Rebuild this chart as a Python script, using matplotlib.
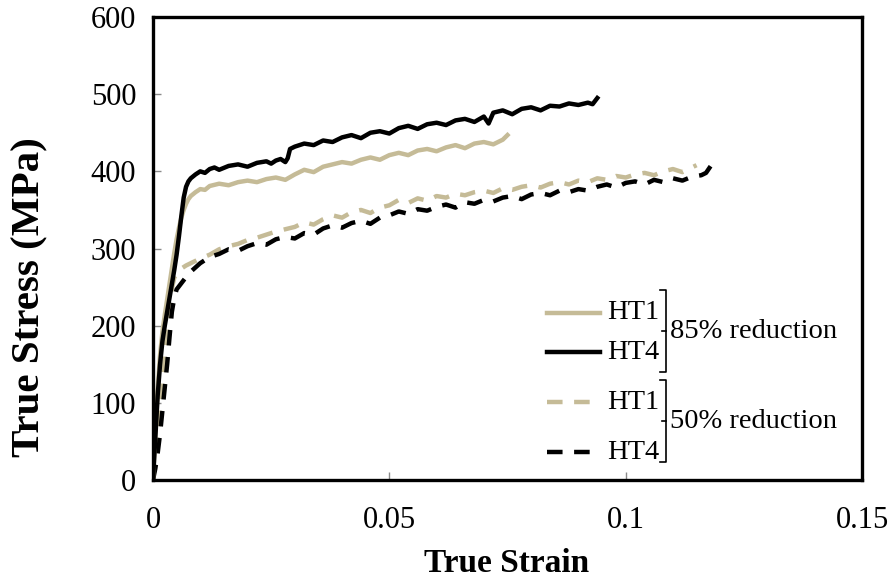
import matplotlib
matplotlib.use("Agg")
import matplotlib.pyplot as plt

# True stress-strain curves, two heat treatments at two cold-rolling reductions
eps_ht1_85 = [0, 0.0005, 0.001, 0.0015, 0.002, 0.0025, 0.003, 0.0035, 0.004, 0.0045,
              0.005, 0.0055, 0.006, 0.0065, 0.007, 0.0075, 0.008, 0.009, 0.010, 0.011,
              0.012, 0.014, 0.016, 0.018, 0.020, 0.022, 0.024, 0.026, 0.028, 0.030,
              0.032, 0.034, 0.036, 0.038, 0.040, 0.042, 0.044, 0.046, 0.048, 0.050,
              0.052, 0.054, 0.056, 0.058, 0.060, 0.062, 0.064, 0.066, 0.068, 0.070,
              0.072, 0.074, 0.075]
sig_ht1_85 = [0, 62, 118, 162, 192, 214, 234, 254, 274, 294,
              312, 327, 340, 350, 358, 364, 368, 373, 377, 376,
              381, 384, 382, 386, 388, 386, 390, 392, 389, 396,
              402, 399, 406, 409, 412, 410, 415, 418, 415, 421,
              424, 421, 427, 429, 426, 431, 434, 430, 436, 438,
              435, 441, 447]

eps_ht4_85 = [0, 0.0005, 0.001, 0.0015, 0.002, 0.0025, 0.003, 0.0035, 0.004, 0.0045,
              0.005, 0.0055, 0.006, 0.0065, 0.007, 0.0075, 0.008, 0.009, 0.010, 0.011,
              0.012, 0.013, 0.014, 0.016, 0.018, 0.020, 0.022, 0.024, 0.025, 0.026,
              0.027, 0.028, 0.0285, 0.029, 0.030, 0.032, 0.034, 0.036, 0.038, 0.040,
              0.042, 0.044, 0.046, 0.048, 0.050, 0.052, 0.054, 0.056, 0.058, 0.060,
              0.062, 0.064, 0.066, 0.068, 0.070, 0.071, 0.072, 0.074, 0.076, 0.078,
              0.080, 0.082, 0.084, 0.086, 0.088, 0.090, 0.092, 0.093, 0.094]
sig_ht4_85 = [0, 55, 110, 150, 180, 200, 218, 236, 254, 272,
              292, 316, 342, 366, 380, 387, 391, 396, 400, 398,
              403, 405, 402, 407, 409, 406, 411, 413, 410, 414,
              416, 412, 417, 429, 432, 436, 434, 440, 438, 444,
              447, 443, 450, 452, 449, 456, 459, 455, 461, 463,
              460, 466, 468, 464, 471, 462, 476, 479, 474, 481,
              483, 479, 485, 484, 488, 486, 489, 487, 495]

eps_ht1_50 = [0, 0.0005, 0.001, 0.0015, 0.002, 0.0025, 0.003, 0.0035, 0.004, 0.0045,
              0.005, 0.006, 0.007, 0.008, 0.010, 0.012, 0.014, 0.016, 0.018, 0.020,
              0.022, 0.024, 0.026, 0.028, 0.030, 0.032, 0.034, 0.036, 0.038, 0.040,
              0.042, 0.044, 0.046, 0.048, 0.050, 0.052, 0.054, 0.056, 0.058, 0.060,
              0.062, 0.064, 0.066, 0.068, 0.070, 0.072, 0.074, 0.076, 0.078, 0.080,
              0.082, 0.084, 0.086, 0.088, 0.090, 0.092, 0.094, 0.096, 0.098, 0.100,
              0.102, 0.104, 0.106, 0.108, 0.110, 0.112, 0.114, 0.115]
sig_ht1_50 = [0, 25, 55, 90, 125, 160, 195, 225, 248, 262,
              268, 274, 278, 281, 287, 292, 299, 303, 306, 311,
              314, 318, 322, 325, 328, 334, 331, 338, 343, 340,
              347, 350, 346, 353, 356, 363, 359, 365, 362, 368,
              366, 371, 369, 373, 375, 372, 378, 376, 380, 382,
              379, 384, 386, 383, 388, 386, 391, 389, 394, 392,
              396, 398, 395, 400, 403, 399, 405, 408]

eps_ht4_50 = [0, 0.0005, 0.001, 0.0015, 0.002, 0.0025, 0.003, 0.0035, 0.004, 0.0045,
              0.005, 0.006, 0.007, 0.008, 0.010, 0.012, 0.014, 0.016, 0.018, 0.020,
              0.022, 0.024, 0.026, 0.028, 0.030, 0.032, 0.034, 0.036, 0.038, 0.040,
              0.042, 0.044, 0.046, 0.048, 0.050, 0.052, 0.054, 0.056, 0.058, 0.060,
              0.062, 0.064, 0.066, 0.068, 0.070, 0.072, 0.074, 0.076, 0.078, 0.080,
              0.082, 0.084, 0.086, 0.088, 0.090, 0.092, 0.094, 0.096, 0.098, 0.100,
              0.102, 0.104, 0.106, 0.108, 0.110, 0.112, 0.114, 0.116, 0.117, 0.118]
sig_ht4_50 = [0, 15, 35, 60, 90, 120, 150, 185, 218, 236,
              247, 255, 263, 270, 281, 289, 293, 299, 297, 303,
              307, 305, 312, 315, 313, 320, 318, 326, 330, 327,
              333, 336, 332, 340, 343, 348, 345, 351, 349, 354,
              357, 353, 360, 358, 363, 361, 366, 368, 364, 370,
              372, 369, 375, 373, 377, 375, 380, 383, 379, 385,
              387, 383, 389, 386, 391, 388, 393, 395, 398, 407]

x_ticks = [0, 0.05, 0.1, 0.15]
x_tick_labels = ["0", "0.05", "0.1", "0.15"]
y_ticks = [0, 100, 200, 300, 400, 500, 600]

TAN = "#C5BB97"
BLACK = "#000000"
LW = 3.2
DASH = (0, (3.5, 2.6))

plt.rcParams["font.family"] = ["Liberation Serif", "DejaVu Serif"]

fig = plt.figure(figsize=(8.93, 5.84), dpi=100)
ax = fig.add_axes([0.1713, 0.178, 0.794, 0.7929])

ax.plot(eps_ht1_50, sig_ht1_50, color=TAN, lw=LW, linestyle=DASH)
ax.plot(eps_ht4_50, sig_ht4_50, color=BLACK, lw=LW, linestyle=DASH)
ax.plot(eps_ht1_85, sig_ht1_85, color=TAN, lw=LW)
ax.plot(eps_ht4_85, sig_ht4_85, color=BLACK, lw=LW)

ax.set_xlim(0, 0.15)
ax.set_ylim(0, 600)
ax.set_xticks(x_ticks)
ax.set_xticklabels(x_tick_labels)
ax.set_yticks(y_ticks)
ax.tick_params(axis="both", direction="in", length=6, width=1, color="#8a8a8a",
               labelsize=22)
ax.tick_params(axis="x", pad=19)
ax.tick_params(axis="y", pad=12)
for sp in ax.spines.values():
    sp.set_linewidth(2.4)
    sp.set_color("black")

fig.text(0.5667, 0.035, "True Strain", fontsize=24, fontweight="bold",
         ha="center", va="center")
fig.text(0.033, 0.492, "True Stress (MPa)", fontsize=29.5, fontweight="bold",
         ha="center", va="center", rotation=90)

# Grouped legend with brackets
tr = ax.transAxes
leg_rows = [
    (0.361, TAN, "-", "HT1"),
    (0.276, BLACK, "-", "HT4"),
    (0.168, TAN, DASH, "HT1"),
    (0.060, BLACK, DASH, "HT4"),
]
for y, c, ls, lab in leg_rows:
    x1 = 0.630 if ls == "-" else 0.618
    ax.plot([0.556, x1], [y, y], color=c, lw=LW, linestyle=ls, transform=tr,
            clip_on=False)
    ax.text(0.640, y, lab, transform=tr, fontsize=20.5, va="center", ha="left")

groups = [(0.410, 0.233, "85% reduction"), (0.216, 0.039, "50% reduction")]
for top, bot, lab in groups:
    mid = (top + bot) / 2
    bx = 0.7235
    ax.plot([bx - 0.008, bx, bx, bx - 0.008], [top, top, bot, bot], color="black",
            lw=1.2, transform=tr, clip_on=False)
    ax.plot([bx - 0.006, bx], [mid, mid], color="black", lw=1.2, transform=tr,
            clip_on=False)
    ax.text(bx + 0.006, mid, lab, transform=tr, fontsize=20.5, va="center", ha="left")

fig.savefig("out.png", dpi=100)
